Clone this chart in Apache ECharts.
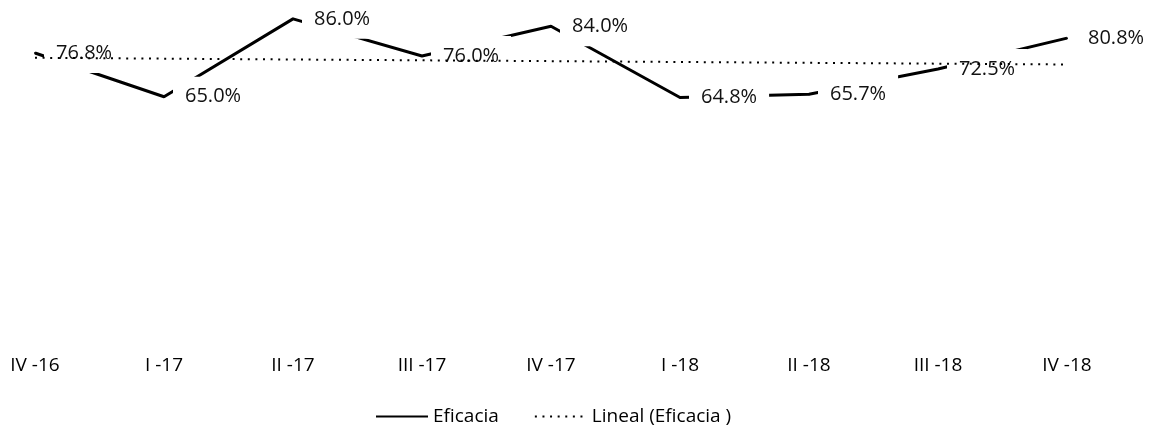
<!DOCTYPE html>
<html>
<head>
<meta charset="utf-8">
<script src="https://cdn.jsdelivr.net/npm/echarts@6/dist/echarts.min.js"></script>
<style>
html,body{margin:0;padding:0;background:#fff;}
#chart{width:1155px;height:428px;}
</style>
</head>
<body>
<div id="chart"></div>
<script>
const categories = ["IV -16", "I -17", "II -17", "III -17", "IV -17", "I -18", "II -18", "III -18", "IV -18"];
const eficacia = [76.8, 65.0, 86.0, 76.0, 84.0, 64.8, 65.7, 72.5, 80.8];
// trend line endpoints (only first and last category)
const trendStart = 75.5;
const trendEnd = 73.7;
const trendData = categories.map((c, i) => i === 0 ? trendStart : (i === categories.length - 1 ? trendEnd : null));

const chart = echarts.init(document.getElementById('chart'));
chart.setOption({
  animation: false,
  backgroundColor: '#fff',
  textStyle: { fontFamily: 'Open Sans' },
  grid: { left: 35, right: 88, top: 4, bottom: 90 },
  legend: {
    left: 370,
    top: 402,
    itemWidth: 52,
    itemHeight: 10,
    itemGap: 35,
    itemStyle: { opacity: 0 },
    textStyle: { fontSize: 19, color: '#000', fontFamily: 'Open Sans' },
    data: ['Eficacia', 'Lineal (Eficacia )']
  },
  xAxis: {
    type: 'category',
    data: categories,
    boundaryGap: false,
    axisLine: { show: false },
    axisTick: { show: false },
    axisLabel: { fontSize: 19, color: '#000', margin: 18, fontFamily: 'Open Sans' },
    splitLine: { show: false }
  },
  yAxis: {
    type: 'value',
    min: 0,
    max: 90,
    show: false,
    splitLine: { show: false }
  },
  series: [
    {
      name: 'Eficacia',
      type: 'line',
      data: eficacia,
      symbol: 'circle',
      symbolSize: 2,
      showSymbol: true,
      z: 2,
      lineStyle: { color: '#000', width: 3 },
      itemStyle: { color: '#000' },
      label: {
        show: true,
        position: 'right',
        distance: 8,
        padding: [10, 12],
        backgroundColor: '#fff',
        fontSize: 20,
        color: '#111',
        fontFamily: 'Open Sans',
        formatter: p => p.value.toFixed(1) + '%'
      }
    },
    {
      name: 'Lineal (Eficacia )',
      type: 'line',
      data: trendData,
      connectNulls: true,
      symbol: 'none',
      z: 5,
      lineStyle: { color: '#000', width: 2, type: [2, 5.6] },
      itemStyle: { color: '#000' }
    }
  ]
});
</script>
</body>
</html>
